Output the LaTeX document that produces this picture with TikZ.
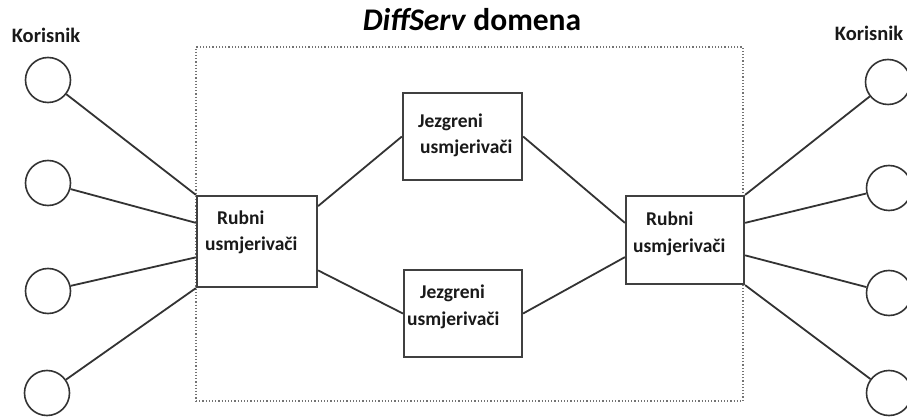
\documentclass[tikz,border=0pt]{standalone}
\usepackage{fontspec}
\setmainfont{Carlito}
\usetikzlibrary{calc}
\begin{document}
\begin{tikzpicture}[x=1pt,y=-1pt,
  user/.style={draw=black!80, line width=1.6pt, circle, minimum size=45pt, inner sep=0pt},
  router/.style={draw=black!75, line width=2.2pt, rectangle, inner sep=0pt, fill=white},
  link/.style={draw=black!80, line width=1.8pt},
  lbl/.style={font=\fontsize{19.5}{21}\selectfont\bfseries, text=black!90, inner sep=0pt, anchor=west},
  usr/.style={font=\fontsize{20.5}{22}\selectfont\bfseries, text=black!90, inner sep=0pt},
  frame/.style={draw=black!55, line width=1.2pt, dotted}]
\useasboundingbox (0,0) rectangle (907,419);
\node[fill=white, inner sep=0pt, minimum width=907pt, minimum height=419pt] (bg) at (453.5,209.5) {};
% domain frame
\node[frame, rectangle, minimum width=547pt, minimum height=354pt, inner sep=0pt] (dom) at (469.5,224) {};
\node[font=\fontsize{31.5}{33}\selectfont\bfseries, inner sep=0pt] (title) at (472,20) {\textit{DiffServ} domena};
% routers
\node[router, minimum width=120pt, minimum height=91pt] (lb) at (257,241.5) {};
\node[router, minimum width=118pt, minimum height=88pt] (rb) at (685,240) {};
\node[router, minimum width=119pt, minimum height=87pt] (tc) at (462.5,136.5) {};
\node[router, minimum width=118pt, minimum height=87pt] (bc) at (463,313.5) {};
\node[lbl] (lbt1) at (217,218) {Rubni};
\node[lbl] (lbt2) at (205,245) {usmjerivači};
\node[lbl] (rbt1) at (646,219) {Rubni};
\node[lbl] (rbt2) at (633,247) {usmjerivači};
\node[lbl] (tct1) at (418,122) {Jezgreni};
\node[lbl] (tct2) at (420,148) {usmjerivači};
\node[lbl] (bct1) at (420,293) {Jezgreni};
\node[lbl] (bct2) at (407,320) {usmjerivači};
% users
\node[usr] (ul) at (46,35) {Korisnik};
\node[usr] (ur) at (869,33) {Korisnik};
\node[user] (l1) at (48,80) {};
\node[user] (l2) at (48,183) {};
\node[user] (l3) at (48,291) {};
\node[user] (l4) at (47,393) {};
\node[user] (r1) at (888,82) {};
\node[user] (r2) at (889,188) {};
\node[user] (r3) at (889,293) {};
\node[user] (r4) at (889,393) {};
% links
\draw[link] (l1) -- (lb.north west);
\draw[link] (l2) -- ($(lb.north west)!0.3!(lb.south west)$);
\draw[link] (l3) -- ($(lb.north west)!0.67!(lb.south west)$);
\draw[link] (l4) -- (lb.south west);
\draw[link] (r1) -- (rb.north east);
\draw[link] (r2) -- ($(rb.north east)!0.31!(rb.south east)$);
\draw[link] (r3) -- ($(rb.north east)!0.67!(rb.south east)$);
\draw[link] (r4) -- (rb.south east);
\draw[link] ($(lb.north east)!0.12!(lb.south east)$) -- (tc.west);
\draw[link] ($(lb.north east)!0.81!(lb.south east)$) -- (bc.west);
\draw[link] (tc.east) -- ($(rb.north west)!0.31!(rb.south west)$);
\draw[link] (bc.east) -- ($(rb.north west)!0.69!(rb.south west)$);
\end{tikzpicture}
\end{document}
